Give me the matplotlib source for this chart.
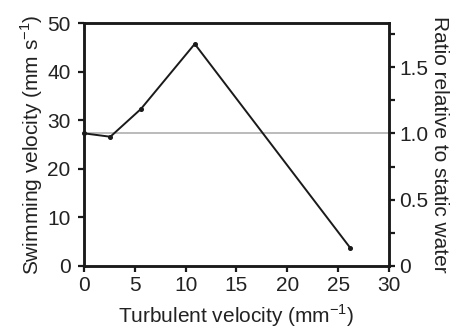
import matplotlib
matplotlib.use("Agg")
import matplotlib.pyplot as plt

plt.rcParams['font.family'] = ['Liberation Sans', 'DejaVu Sans']
plt.rcParams['mathtext.fontset'] = 'custom'
plt.rcParams['mathtext.rm'] = 'Liberation Sans'

# valeurs
turb_vel = [0, 2.6, 5.6, 10.9, 26.2]
swim_vel = [27.3, 26.6, 32.3, 45.7, 3.7]
static_vel = 27.3
left_ticks = [0, 10, 20, 30, 40, 50]
bottom_ticks = [0, 5, 10, 15, 20, 25, 30]
ratio_ticks = [0, 0.25, 0.5, 0.75, 1.0, 1.25, 1.5, 1.75]
ratio_labels = ['0', '', '0.5', '', '1.0', '', '1.5', '']

fig = plt.figure(figsize=(4.56, 3.29), dpi=100)
ax = fig.add_axes([0.184, 0.1915, 0.669, 0.7385])

ax.axhline(static_vel, color='#b5b5b5', linewidth=1.3, zorder=1)
ax.plot(turb_vel, swim_vel, color='#1a1a1a', linewidth=1.4, marker='o',
        markersize=2.6, zorder=3, clip_on=False)

ax.set_xlim(0, 30)
ax.set_ylim(0, 50)
ax.set_xticks(bottom_ticks)
ax.set_yticks(left_ticks)
ax.set_xlabel('Turbulent velocity (mm$^{-1}$)', fontsize=15, labelpad=5,
              color='#222222')
ax.set_ylabel('Swimming velocity (mm s$^{-1}$)', fontsize=15, labelpad=2,
              color='#222222')

ax2 = ax.twinx()
ax2.set_ylim(0, 50 / static_vel)
ax2.set_yticks(ratio_ticks)
ax2.set_yticklabels(ratio_labels)
ax2.set_ylabel('Ratio relative to static water', fontsize=15,
               rotation=270, labelpad=15, color='#222222')

for a in (ax, ax2):
    for s in a.spines.values():
        s.set_linewidth(1.8)
        s.set_color('#1a1a1a')
    a.tick_params(direction='out', length=4.5, width=1.6, labelsize=15,
                  colors='#1a1a1a', labelcolor='#222222', pad=3)
ax.tick_params(axis='x', pad=3)
ax.tick_params(axis='y', pad=5)

fig.savefig('out.png', dpi=100)
